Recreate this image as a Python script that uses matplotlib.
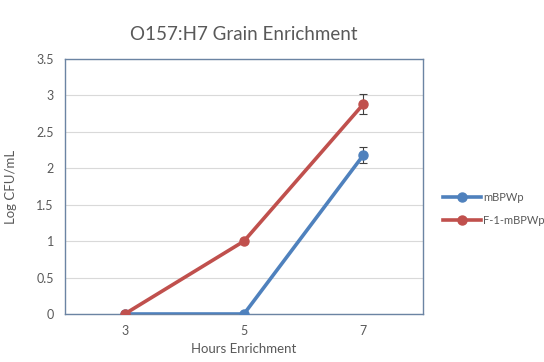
import matplotlib.pyplot as plt
from matplotlib.lines import Line2D
import numpy as np

plt.rcParams['font.family'] = ['Lato', 'DejaVu Sans']

hours = ["3", "5", "7"]
mbpwp = [0.0, 0.0, 2.18]
mbpwp_err = [0.0, 0.0, 0.11]
f1_mbpwp = [0.0, 1.0, 2.88]
f1_mbpwp_err = [0.0, 0.03, 0.14]

blue = '#4F81BD'
red = '#C0504D'
txt = '#595959'
fig = plt.figure(figsize=(5.44, 3.62), dpi=100)
ax = fig.add_axes([0.1195, 0.1326, 0.658, 0.7044])

x = np.arange(len(hours))
ax.errorbar(x, mbpwp, yerr=mbpwp_err, color=blue, lw=2.6, marker='o', ms=6.5,
            ecolor='#404040', elinewidth=0.8, capsize=3, capthick=0.8, zorder=3)
ax.errorbar(x, f1_mbpwp, yerr=f1_mbpwp_err, color=red, lw=2.6, marker='o', ms=6.5,
            ecolor='#404040', elinewidth=0.8, capsize=3, capthick=0.8, zorder=3)

ax.set_xlim(-0.5, 2.5)
ax.set_ylim(0, 3.5)
ax.set_yticks(np.arange(0, 3.6, 0.5))
ax.set_yticklabels(['0', '0.5', '1', '1.5', '2', '2.5', '3', '3.5'])
ax.set_xticks(x)
ax.set_xticklabels(hours)
ax.yaxis.grid(True, color='#d9d9d9', lw=0.8)
ax.set_axisbelow(True)
for s in ax.spines.values():
    s.set_color('#6b84a3')
    s.set_linewidth(1.0)
ax.tick_params(length=0, labelsize=9, colors=txt, pad=8)

ax.set_title('O157:H7 Grain Enrichment', fontsize=13.5, color=txt, pad=14)
ax.set_xlabel('Hours Enrichment', fontsize=9.5, color=txt, labelpad=4)
ax.set_ylabel('Log CFU/mL', fontsize=9.5, color=txt, labelpad=14)

handles = [Line2D([], [], color=blue, lw=2.6, marker='o', ms=6.5),
           Line2D([], [], color=red, lw=2.6, marker='o', ms=6.5)]
fig.legend(handles, ['mBPWp', 'F-1-mBPWp'], loc='center left',
           bbox_to_anchor=(0.815, 0.422), frameon=False, fontsize=8,
           labelcolor=txt, handlelength=3.4, handletextpad=0.15, labelspacing=1.1,
           borderpad=0, borderaxespad=0)

fig.savefig('out.png', dpi=100)
